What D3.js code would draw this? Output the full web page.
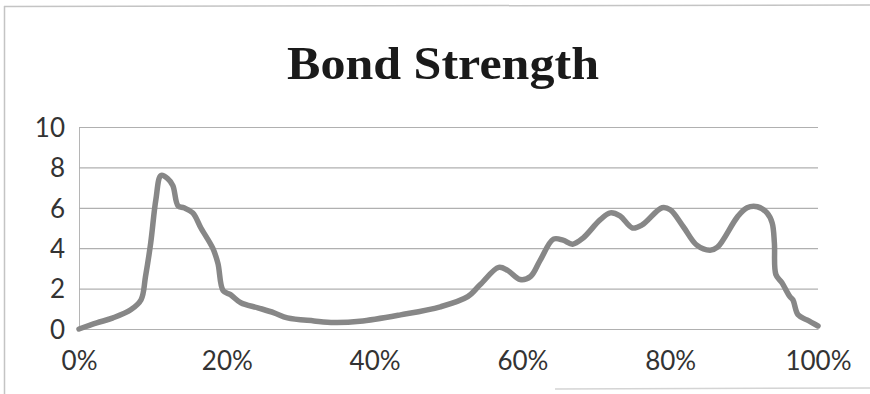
<!DOCTYPE html>
<html>
<head>
<meta charset="utf-8">
<script src="https://cdn.jsdelivr.net/npm/d3@7/dist/d3.min.js"></script>
<style>
  html, body { margin: 0; padding: 0; background: #fff; }
  svg { display: block; }
</style>
</head>
<body>
<svg id="chart" width="870" height="394"></svg>
<script>
// Bond strength profile across the part (position in %, strength value)
const positions = [0, 2.4, 4.6, 7.0, 8.4, 9.0, 9.7, 10.4, 11.1, 12.0, 12.7, 13.4, 14.2, 15.4, 16.5,
  18.1, 18.8, 19.5, 20.5, 21.9, 24.2, 26.4, 28.2, 31.8, 34.5, 38.0, 43.5, 48.9, 52.6, 54.3,
  56.8, 58.0, 59.7, 61.1, 62.4, 64.2, 65.5, 66.8, 68.2, 70.5, 71.9, 73.2, 74.9, 76.2, 78.9,
  80.0, 81.8, 83.6, 85.4, 86.4, 89.1, 90.4, 91.8, 93.1, 93.8, 94.1, 94.3, 95.1, 96.2, 96.6,
  97.3, 98.5, 100];
const strength = [0, 0.3, 0.55, 0.95, 1.45, 2.6, 4.25, 6.4, 7.6, 7.45, 7.1, 6.1, 6.0, 5.75, 5.0,
  4.0, 3.25, 1.9, 1.7, 1.3, 1.05, 0.8, 0.55, 0.4, 0.32, 0.38, 0.7, 1.1, 1.6, 2.2,
  3.05, 2.9, 2.45, 2.6, 3.4, 4.45, 4.4, 4.2, 4.5, 5.4, 5.75, 5.6, 5.0, 5.15, 6.0,
  5.9, 5.05, 4.15, 3.9, 4.05, 5.55, 6.0, 6.05, 5.75, 5.25, 4.25, 2.7, 2.3, 1.6, 1.45,
  0.7, 0.45, 0.15];
const yTicks = [0, 2, 4, 6, 8, 10];
const xTicks = [0, 20, 40, 60, 80, 100];
const title = "Bond Strength";

const svg = d3.select("#chart");
const plot = { left: 79, right: 818, top: 127, bottom: 329 };
const labelFont = "Lato, 'Open Sans', 'Liberation Sans', sans-serif";

const x = d3.scaleLinear().domain([0, 100]).range([plot.left, plot.right]);
const y = d3.scaleLinear().domain([0, 10]).range([plot.bottom, plot.top]);

// outer frame edges
svg.append("line").attr("x1", 4.5).attr("x2", 4.5).attr("y1", 6).attr("y2", 394)
  .attr("stroke", "#c4c4c4").attr("stroke-width", 1.5);
svg.append("line").attr("x1", 4).attr("x2", 870).attr("y1", 6.5).attr("y2", 5)
  .attr("stroke", "#c4c4c4").attr("stroke-width", 1.5);
svg.append("line").attr("x1", 555).attr("x2", 870).attr("y1", 389).attr("y2", 388)
  .attr("stroke", "#d4d4d4").attr("stroke-width", 1.5);

// title
svg.append("text")
  .attr("x", 443).attr("y", 79)
  .attr("text-anchor", "middle")
  .attr("font-family", "'Liberation Serif', 'DejaVu Serif', serif")
  .attr("font-weight", "bold")
  .attr("font-size", 47)
  .attr("textLength", 312)
  .attr("lengthAdjust", "spacingAndGlyphs")
  .attr("fill", "#1a1a1a")
  .text(title);

// horizontal gridlines + y axis
const yAxis = d3.axisLeft(y).tickValues(yTicks).tickSize(-(plot.right - plot.left)).tickPadding(14)
  .tickFormat(d3.format("d"));
const gy = svg.append("g").attr("transform", `translate(${plot.left},0)`).call(yAxis);
gy.select(".domain").attr("stroke", "#b5b5b5");
gy.selectAll(".tick line").attr("stroke", "#b0b0b0").attr("stroke-width", 1.2);
gy.selectAll(".tick text")
  .attr("font-family", labelFont)
  .attr("font-size", 26).attr("fill", "#333").attr("dy", "0.36em");

// x axis
const xAxis = d3.axisBottom(x).tickValues(xTicks).tickSize(0).tickPadding(23)
  .tickFormat(d => d + "%");
const gx = svg.append("g").attr("transform", `translate(0,${plot.bottom})`).call(xAxis);
gx.select(".domain").attr("stroke", "#b0b0b0").attr("stroke-width", 1.2);
gx.selectAll(".tick text")
  .attr("font-family", labelFont)
  .attr("font-size", 26).attr("fill", "#333");

// strength curve
const line = d3.line()
  .x((d, i) => x(positions[i]))
  .y(d => y(d))
  .curve(d3.curveCatmullRom.alpha(0.5));

svg.append("path")
  .datum(strength)
  .attr("d", line)
  .attr("fill", "none")
  .attr("stroke", "#878787")
  .attr("stroke-width", 5.5)
  .attr("stroke-linejoin", "round")
  .attr("stroke-linecap", "round");
</script>
</body>
</html>
